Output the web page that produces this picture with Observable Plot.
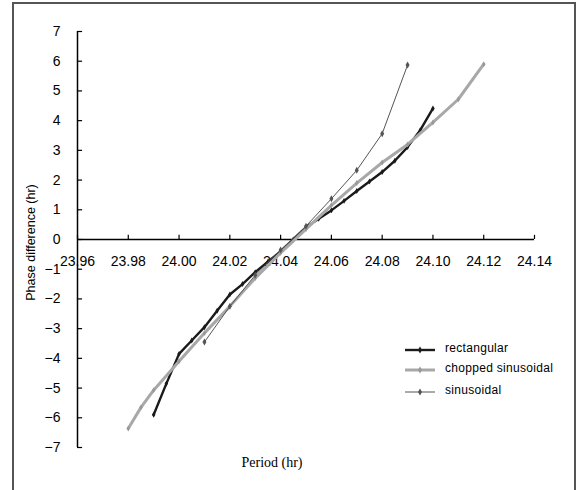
<!DOCTYPE html>
<html>
<head>
<meta charset="utf-8">
<script src="https://cdn.jsdelivr.net/npm/d3@7"></script>
<script src="https://cdn.jsdelivr.net/npm/@observablehq/plot@0.6"></script>
<style>
  html, body { margin: 0; padding: 0; background: #fff; overflow: hidden; }
  #wrap { position: relative; width: 583px; height: 490px; }
  #border { position: absolute; left: 12px; top: 2px; width: 564px; height: 520px; border: 2px solid #555; box-sizing: border-box; pointer-events: none; }
</style>
</head>
<body>
<div id="wrap"><div id="border"></div></div>
<script>
// ---- data ----
const rectPeriod = [23.99, 23.995, 24.00, 24.005, 24.01, 24.015, 24.02, 24.025, 24.03, 24.035, 24.04, 24.045, 24.05, 24.055, 24.06, 24.065, 24.07, 24.075, 24.08, 24.085, 24.09, 24.095, 24.10];
const rectPhase  = [-5.9, -4.85, -3.85, -3.4, -2.95, -2.4, -1.85, -1.5, -1.1, -0.75, -0.4, 0.0, 0.41, 0.7, 0.98, 1.3, 1.63, 1.95, 2.27, 2.65, 3.11, 3.68, 4.41];

const chopPeriod = [23.98, 23.985, 23.99, 24.00, 24.01, 24.02, 24.03, 24.04, 24.05, 24.06, 24.07, 24.08, 24.09, 24.10, 24.11, 24.12];
const chopPhase  = [-6.36, -5.65, -5.07, -4.1, -3.15, -2.25, -1.3, -0.45, 0.35, 1.15, 1.9, 2.59, 3.2, 3.94, 4.72, 5.9];

const sinPeriod = [24.01, 24.02, 24.03, 24.04, 24.05, 24.06, 24.07, 24.08, 24.09];
const sinPhase  = [-3.45, -2.25, -1.2, -0.35, 0.45, 1.37, 2.33, 3.56, 5.87];

const seriesNames = ["rectangular", "chopped sinusoidal", "sinusoidal"];
const xTicks = [23.96, 23.98, 24.00, 24.02, 24.04, 24.06, 24.08, 24.10, 24.12, 24.14];
const yTicks = [-7, -6, -5, -4, -3, -2, -1, 0, 1, 2, 3, 4, 5, 6, 7];
const xLabel = "Period (hr)";
const yLabel = "Phase difference (hr)";

// ---- build ----
const toRows = (xs, ys) => xs.map((x, i) => ({x, y: ys[i]}));
const rect = toRows(rectPeriod, rectPhase);
const chop = toRows(chopPeriod, chopPhase);
const sin = toRows(sinPeriod, sinPhase);

const styles = [
  {stroke: "#1a1a1a", width: 2.4, dot: "#1a1a1a", r: 1.8},
  {stroke: "#a8a8a8", width: 3, dot: "#999999", r: 1.8},
  {stroke: "#555555", width: 1, dot: "#555555", r: 2.1}
];

const xMin = xTicks[0], xMax = xTicks[xTicks.length - 1];
const yMin = yTicks[0], yMax = yTicks[yTicks.length - 1];
const xTickLenData = 0.14;   // ~4px up
const yTickLenData = 0.002;  // ~5px right

const sans = "'Liberation Sans', Arial, sans-serif";

const chart = Plot.plot({
  width: 583,
  height: 490,
  marginLeft: 77,
  marginRight: 49,
  marginTop: 31,
  marginBottom: 43,
  style: {fontFamily: sans, fontSize: "14px", background: "transparent", color: "#000"},
  x: {domain: [xMin, xMax], axis: null},
  y: {domain: [yMin, yMax], axis: null},
  marks: [
    // y axis
    Plot.ruleX([xMin], {y1: yMin, y2: yMax, stroke: "#000", strokeWidth: 1.5}),
    Plot.ruleY(yTicks, {x1: xMin, x2: xMin + yTickLenData, stroke: "#000", strokeWidth: 1.2}),
    Plot.text(yTicks, {x: xMin, y: d => d, dx: -17, textAnchor: "end", text: d => d < 0 ? "\u2212" + Math.abs(d) : String(d), fontSize: 14, fill: "#000"}),
    // x axis at y = 0
    Plot.ruleY([0], {x1: xMin, x2: xMax, stroke: "#000", strokeWidth: 1.5}),
    Plot.ruleX(xTicks, {y1: 0, y2: xTickLenData, stroke: "#000", strokeWidth: 1.2}),
    Plot.text(xTicks, {x: d => d, y: 0, dy: 22, text: d => d.toFixed(2), fontSize: 14, fill: "#000"}),
    // axis titles
    Plot.text([yLabel], {x: xMin, y: -0.1, rotate: -90, dx: -47, fontSize: 12.5, letterSpacing: "0.05px", fill: "#000"}),
    Plot.text([xLabel], {frameAnchor: "bottom", dx: -34, dy: 19, fontSize: 14, fontFamily: "'Liberation Serif', 'Times New Roman', serif", fill: "#000"}),
    // series
    Plot.line(rect, {x: "x", y: "y", stroke: styles[0].stroke, strokeWidth: styles[0].width}),
    Plot.dot(rect, {x: "x", y: "y", symbol: "diamond", r: styles[0].r, fill: styles[0].dot}),
    Plot.line(chop, {x: "x", y: "y", stroke: styles[1].stroke, strokeWidth: styles[1].width}),
    Plot.dot(chop, {x: "x", y: "y", symbol: "diamond", r: styles[1].r, fill: styles[1].dot}),
    Plot.line(sin, {x: "x", y: "y", stroke: styles[2].stroke, strokeWidth: styles[2].width}),
    Plot.dot(sin, {x: "x", y: "y", symbol: "diamond", r: styles[2].r, fill: styles[2].dot})
  ]
});

chart.style.position = "absolute";
chart.style.left = "0px";
chart.style.top = "0px";
document.getElementById("wrap").prepend(chart);

// legend
const svg = d3.select(chart);
const lg = svg.append("g").attr("font-family", sans).attr("font-size", 12).attr("text-anchor", "start");
const rowsY = [350, 370, 392];
seriesNames.forEach((name, i) => {
  const y = rowsY[i];
  lg.append("line").attr("x1", 405).attr("x2", 435).attr("y1", y).attr("y2", y)
    .attr("stroke", styles[i].stroke).attr("stroke-width", styles[i].width);
  lg.append("path").attr("d", d3.symbol(d3.symbolDiamond, 14)()).attr("transform", `translate(420,${y})`).attr("fill", styles[i].dot);
  lg.append("text").attr("x", 445).attr("y", y - 2).attr("dy", "0.35em").attr("text-anchor", "start").attr("letter-spacing", "0.3px").attr("fill", "#000").text(name);
});
</script>
</body>
</html>
